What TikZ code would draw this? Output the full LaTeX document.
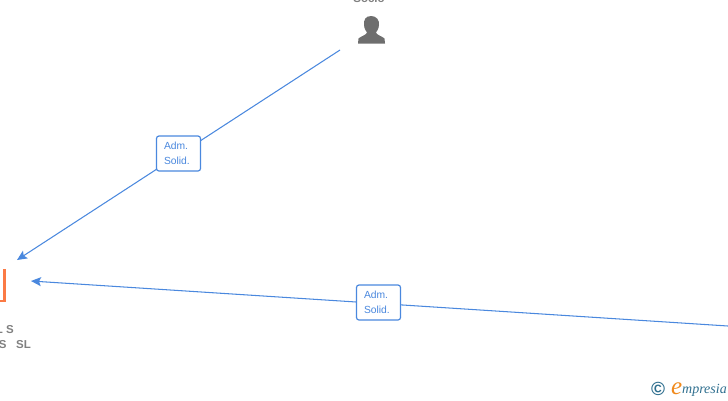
\documentclass[tikz,border=0pt]{standalone}
\usepackage{fontspec}
\setmainfont{Liberation Sans}
\newfontfamily\logofont{Liberation Serif}
\usetikzlibrary{arrows.meta}
\definecolor{linkblue}{HTML}{4A88DE}
\definecolor{persongray}{HTML}{6E6E6E}
\definecolor{labelgray}{HTML}{808080}
\definecolor{companyorange}{HTML}{FB7A45}
\definecolor{logoblue}{HTML}{2F6F8F}
\definecolor{logoorange}{HTML}{F08A1D}
\tikzset{
  link/.style={draw=linkblue,line width=1.05pt,-{Stealth[length=10pt,width=9pt,inset=2pt]}},
  badge/.style={draw=linkblue,line width=1.2pt,fill=white,rounded corners=2.5pt,minimum width=44pt,minimum height=35pt,inner sep=0pt,text=linkblue,text width=29pt,font=\fontsize{10.3}{15}\selectfont},
  caption/.style={text=labelgray,font=\bfseries\fontsize{11.5}{15}\selectfont,inner sep=0pt}
}
\begin{document}
\begin{tikzpicture}[x=1pt,y=-1pt]
\useasboundingbox (0,0) rectangle (728,400);
\clip (0,0) rectangle (728,400);
\coordinate (personend) at (340,50);
\coordinate (companytop) at (17,260);
\coordinate (companyright) at (31,281);
\coordinate (rightedge) at (728,326);
\node[caption,anchor=base] (personname) at (369,2) {Socio};
\fill[persongray] (371,16) .. controls (365.5,16) and (363.5,20) .. (364,25) .. controls (364.3,29) and (366,31) .. (367,32.5) .. controls (366.5,35) and (361,36) .. (358.5,38.5) -- (358,43.5) -- (385,43.5) -- (384.5,38.5) .. controls (382,36) and (376.5,35) .. (376,32.5) .. controls (377,31) and (378.7,29) .. (379,25) .. controls (379.5,20) and (376.5,16) .. (371,16) -- cycle;
\draw[companyorange,line width=2.5pt] (4.5,269) -- (4.5,301) (-1,301) -- (6,301);
\node[caption,anchor=base east] (compa) at (14,333) {L S};
\node[caption,anchor=base east] (compb) at (31,348) {S\hspace{9.5pt}SL};
\draw[link] (personend) -- (companytop);
\draw[link] (rightedge) -- (companyright);
\node[badge,align=left] (badgea) at (178.5,153.5) {Adm.\\Solid.};
\node[badge,align=left] (badgeb) at (378.5,302.5) {Adm.\\Solid.};
\node[text=logoblue,font=\bfseries\fontsize{19}{19}\selectfont,inner sep=0pt] (copy) at (658,389) {\char"00A9};
\node[text=logoorange,font=\logofont\itshape\fontsize{25}{25}\selectfont,inner sep=0pt,anchor=base west] (logoe) at (671,394) {e};
\node[text=logoblue,font=\logofont\itshape\fontsize{14}{14}\selectfont,inner sep=0pt,anchor=base west] (logotext) at (682,393) {mpresia};
\end{tikzpicture}
\end{document}
